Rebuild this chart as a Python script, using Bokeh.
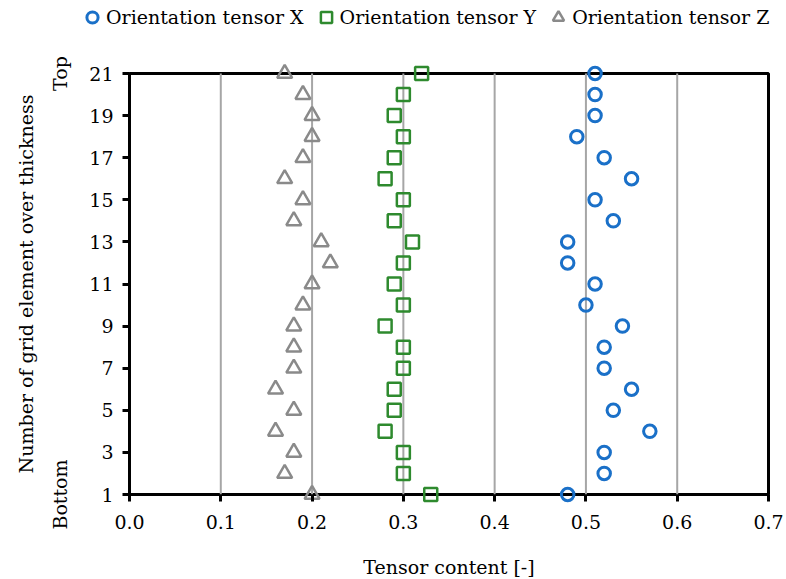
import math
from bokeh.plotting import figure
from bokeh.models import (ColumnDataSource, FixedTicker, LinearAxis, Legend, LegendItem,
                          NumeralTickFormatter, Range1d, BoxAnnotation, Label)
from bokeh.embed import file_html
from bokeh.resources import INLINE

# ---- data ----
element = list(range(1, 22))
tensor_x = [0.48, 0.52, 0.52, 0.57, 0.53, 0.55, 0.52, 0.52, 0.54, 0.50, 0.51,
            0.48, 0.48, 0.53, 0.51, 0.55, 0.52, 0.49, 0.51, 0.51, 0.51]
tensor_y = [0.33, 0.30, 0.30, 0.28, 0.29, 0.29, 0.30, 0.30, 0.28, 0.30, 0.29,
            0.30, 0.31, 0.29, 0.30, 0.28, 0.29, 0.30, 0.29, 0.30, 0.32]
tensor_z = [0.20, 0.17, 0.18, 0.16, 0.18, 0.16, 0.18, 0.18, 0.18, 0.19, 0.20,
            0.22, 0.21, 0.18, 0.19, 0.17, 0.19, 0.20, 0.20, 0.19, 0.17]
x_ticks = [0.0, 0.1, 0.2, 0.3, 0.4, 0.5, 0.6, 0.7]
y_ticks = [1, 3, 5, 7, 9, 11, 13, 15, 17, 19, 21]
series_names = ["Orientation tensor X", "Orientation tensor Y", "Orientation tensor Z"]
end_labels = {1: "Bottom", 21: "Top"}
x_title = "Tensor content [-]"
y_title = "Number of grid element over thickness"

FONT = "DejaVu Serif"
W, H = 786, 579
# pixel layout of the plotting box inside the page
BOX_L, BOX_R, BOX_T, BOX_B = 129, 768, 73, 494
XTITLE_Y, YTITLE_X = 566, 25

x_lo, x_hi = x_ticks[0], x_ticks[-1]
y_lo, y_hi = y_ticks[0], y_ticks[-1]
kx = (x_hi - x_lo) / (BOX_R - BOX_L)
ky = (y_hi - y_lo) / (BOX_B - BOX_T)

# the frame covers the whole page; axes are pinned to the box edges
p = figure(width=W, height=H, title=None,
           x_range=Range1d(x_lo - BOX_L * kx, x_hi + (W - BOX_R) * kx),
           y_range=Range1d(y_lo - (H - BOX_B) * ky, y_hi + BOX_T * ky),
           output_backend="svg", toolbar_location=None, min_border=0)

p.outline_line_color = None
p.background_fill_color = "white"
p.border_fill_color = "white"
p.xgrid.grid_line_color = None
p.ygrid.grid_line_color = None

box = BoxAnnotation(left=x_lo, right=x_hi, bottom=y_lo, top=y_hi,
                    fill_alpha=0, line_color="black", line_alpha=1.0, line_width=3,
                    level="underlay")
p.add_layout(box)

grid_x = x_ticks[1:-1]
gsrc = ColumnDataSource(dict(x=grid_x, y0=[y_lo] * len(grid_x), y1=[y_hi] * len(grid_x)))
p.segment(x0="x", y0="y0", x1="x", y1="y1", source=gsrc, line_color="#a6a6a6", line_width=2)

xa = p.xaxis[0]
xa.fixed_location = y_lo
xa.ticker = FixedTicker(ticks=x_ticks)
xa.formatter = NumeralTickFormatter(format="0.0")
ya = p.yaxis[0]
ya.fixed_location = x_lo
ya.ticker = FixedTicker(ticks=y_ticks)

ya2 = LinearAxis(ticker=FixedTicker(ticks=list(end_labels.keys())),
                 major_label_overrides=end_labels)
ya2.fixed_location = x_lo
p.add_layout(ya2, "left")

for ax in [xa, ya, ya2]:
    ax.axis_line_color = None
    ax.major_tick_line_color = "black"
    ax.major_tick_line_width = 3
    ax.major_tick_out = 7
    ax.major_tick_in = 0
    ax.minor_tick_line_color = None
    ax.minor_tick_out = 0
    ax.minor_tick_in = 0
    ax.major_label_text_font = FONT
    ax.major_label_text_font_size = "19px"
    ax.major_label_text_color = "black"
xa.major_label_standoff = 13
ya.major_label_standoff = 9

ya2.major_tick_line_color = None
ya2.major_tick_out = 0
ya2.major_label_orientation = "vertical"
ya2.major_label_standoff = 59

# axis titles, centred on the plotting box
p.add_layout(Label(x=(x_lo + x_hi) / 2, y=y_lo - (XTITLE_Y - BOX_B) * ky, text=x_title,
                   text_align="center", text_baseline="middle", text_font=FONT,
                   text_font_size="19px", text_color="black"))
p.add_layout(Label(x=x_lo - (BOX_L - YTITLE_X) * kx, y=(y_lo + y_hi) / 2, text=y_title,
                   angle=math.pi / 2, text_align="center", text_baseline="middle",
                   text_font=FONT, text_font_size="19px", text_color="black"))

src = ColumnDataSource(dict(el=element, tx=tensor_x, ty=tensor_y, tz=tensor_z))
rz = p.scatter("tz", "el", source=src, marker="triangle", size=15, fill_color=None,
               line_color="#8a8a8a", line_width=2.5)
ry = p.scatter("ty", "el", source=src, marker="square", size=13, fill_color=None,
               line_color="#2e8a2e", line_width=2.5)
rx = p.scatter("tx", "el", source=src, marker="circle", size=12.5, fill_color=None,
               line_color="#1a70c8", line_width=3)

legend = Legend(items=[LegendItem(label=series_names[0], renderers=[rx]),
                       LegendItem(label=series_names[1], renderers=[ry]),
                       LegendItem(label=series_names[2], renderers=[rz])],
                orientation="horizontal", location=(78, H - 32),
                padding=0, margin=0, spacing=8, label_standoff=0,
                glyph_width=28, glyph_height=30,
                border_line_color=None, background_fill_alpha=0)
legend.label_text_font = FONT
legend.label_text_font_size = "19px"
legend.label_text_color = "black"
p.add_layout(legend, "center")

open("out.html", "w").write(file_html(p, INLINE))
